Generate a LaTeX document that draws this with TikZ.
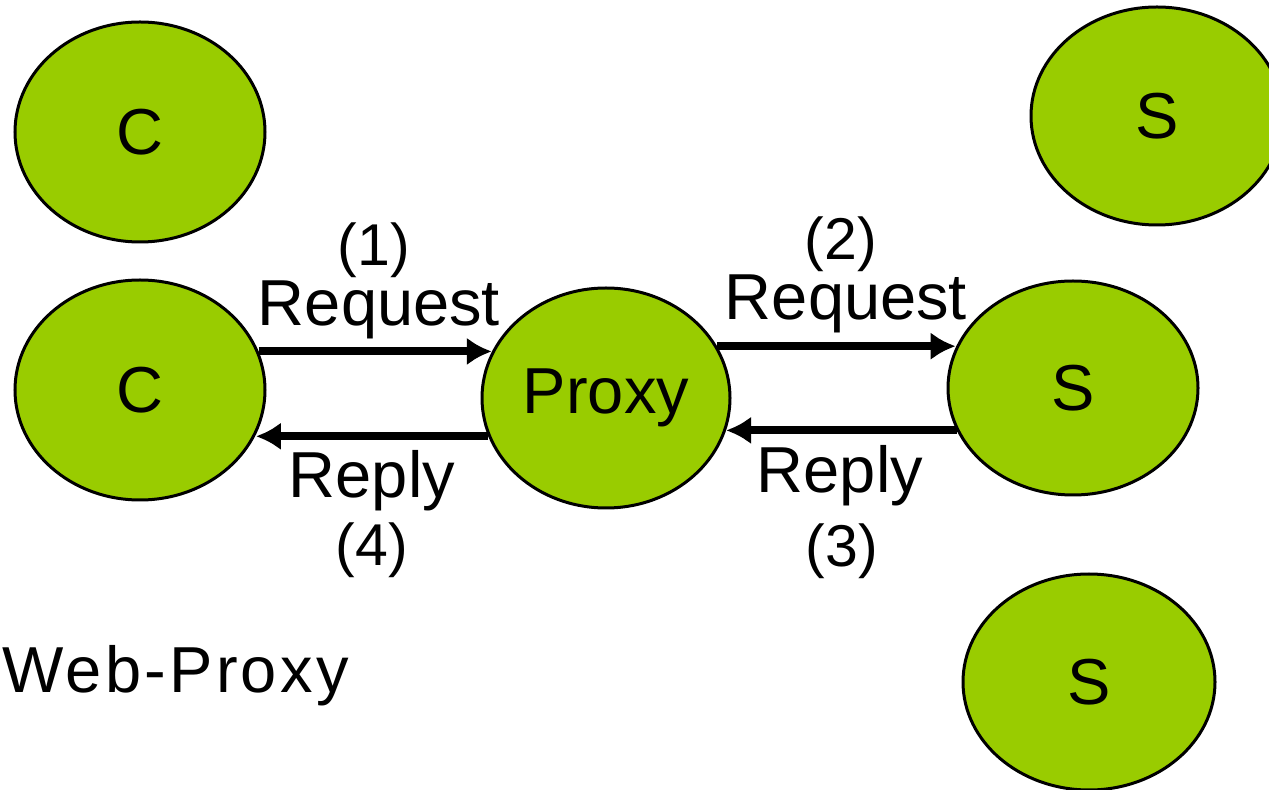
\documentclass[tikz,border=0pt]{standalone}
\usepackage{fontspec}
\setmainfont{Liberation Sans}
\usetikzlibrary{shapes.geometric, arrows.meta, positioning}
\definecolor{hostgreen}{HTML}{99CC00}

\tikzset{
    host/.style = {ellipse, draw, line width=1.5pt, fill=hostgreen, inner sep=0pt,
                   minimum width=125pt, minimum height=110pt, font=\fontsize{32.5}{39}\selectfont},
    msg/.style  = {-{Latex[length=12.5pt,width=14pt]}, line width=4pt},
    lbl/.style  = {anchor=base, inner sep=0pt, font=\fontsize{32.5}{39}\selectfont},
    num/.style  = {lbl, font=\fontsize{29.5}{35}\selectfont}
}

\begin{document}
\begin{tikzpicture}[x=0.5pt, y=-0.5pt]
        \useasboundingbox (0,0) rectangle (1269,790);

        \node (ClientTop) [host] at (140,132) {C};
        \node (ClientMid) [host] at (140,390) {C};
        \node (Proxy) [host, minimum width=124pt] at (606,398) {Proxy};
        \node (ServerTop) [host, minimum width=126pt, minimum height=109pt] at (1157,116) {S};
        \node (ServerMid) [host, minimum height=107pt] at (1073,388) {S};
        \node (ServerLow) [host, minimum width=126pt, minimum height=108pt] at (1089,682) {S};

        \node (NumOne) [num] at (374,266) {(1)};
        \node (ReqOne) [lbl] at (379,326) {Request};
        \node (NumTwo) [num] at (841,260) {(2)};
        \node (ReqTwo) [lbl] at (846,320) {Request};
        \node (RepThree) [lbl] at (840,493) {Reply};
        \node (NumThree) [num] at (842,567) {(3)};
        \node (RepFour) [lbl] at (372,498) {Reply};
        \node (NumFour) [num] at (372,566) {(4)};

        \node (Title) [lbl, anchor=base west] at (2,692) {\addfontfeatures{LetterSpace=5}Web-Proxy};

        \draw[msg] (ClientMid.18) -- (ClientMid.18 -| Proxy.158);
        \draw[msg] (Proxy.25) -- (Proxy.25 -| ServerMid.161);
        \draw[msg] (ServerMid.-160) -- (ServerMid.-160 -| Proxy.-15);
        \draw[msg] (Proxy.-162) -- (Proxy.-162 -| ClientMid.-21);
\end{tikzpicture}
\end{document}
